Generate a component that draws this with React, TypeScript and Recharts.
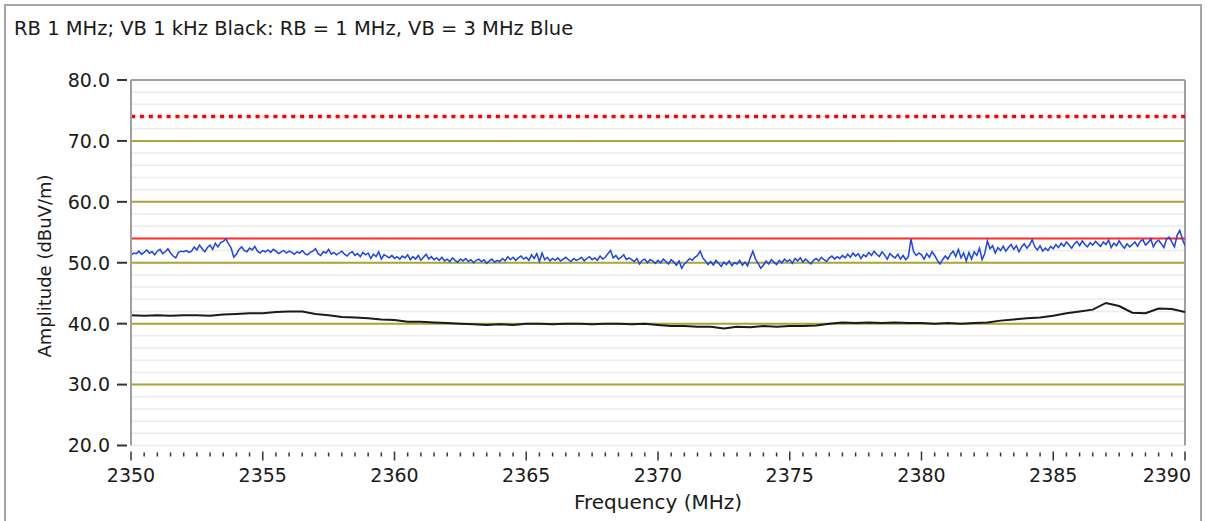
import { LineChart, Line, XAxis, YAxis, CartesianGrid, ReferenceLine } from "recharts";

const TITLE = "RB 1 MHz; VB 1 kHz Black: RB = 1 MHz, VB = 3 MHz Blue";
const X_LABEL = "Frequency (MHz)";
const Y_LABEL = "Amplitude (dBuV/m)";

const FREQ_START = 2350;
const FREQ_END = 2390;
const BLUE_STEP = 0.1;
const BLACK_STEP = 0.5;

// blue trace (RB 1 MHz, VB 3 MHz), one row per MHz, 0.1 MHz apart
const blueTrace = [
  51.2, 51.6, 51.5, 51.9, 51.4, 51.7, 52.1, 51.6, 51.8, 51.3,
  51.9, 52.2, 51.5, 51.8, 52.3, 51.6, 51.1, 50.8, 51.7, 51.9,
  51.8, 52.0, 51.7, 51.9, 52.6, 52.1, 52.9, 52.3, 51.8, 52.5,
  52.9, 52.2, 53.2, 52.6, 53.3, 53.5, 53.9, 53.1, 52.4, 50.9,
  51.4, 52.2, 52.6, 52.0, 51.8, 52.4, 52.1, 52.7, 51.9, 51.6,
  52.0, 51.8, 52.1, 51.7, 52.2, 51.9, 51.5, 51.8, 52.0, 51.6,
  51.9, 51.7, 51.4, 51.8, 51.6, 52.0, 51.5, 51.3, 51.7, 51.9,
  52.3, 51.5, 51.2, 51.8, 51.6, 52.2, 51.4, 51.7, 51.3, 51.6,
  51.9, 51.4, 51.1, 51.6, 51.8, 51.2, 51.5, 51.0, 51.7, 51.3,
  51.6, 50.7, 51.4, 51.0, 51.8, 50.6, 51.3, 51.1, 50.8, 51.2,
  50.7, 51.0, 50.6, 51.1, 50.8, 51.3, 50.5, 51.0, 50.6, 51.2,
  50.4, 50.9, 51.4, 50.6, 51.0, 50.5, 50.8, 50.4, 50.9, 50.3,
  50.6, 50.2, 50.8, 50.4, 50.1, 50.6, 50.3, 50.7, 50.2, 50.5,
  50.0, 50.4, 50.6, 50.2, 50.5, 49.9, 50.3, 50.6, 50.1, 50.4,
  50.2, 50.7, 50.3, 51.0, 50.5, 50.9, 50.4, 50.8, 51.1, 50.6,
  50.9, 50.4, 51.3, 50.7, 51.5, 50.2, 51.6, 50.5, 50.9, 50.3,
  50.7, 50.4, 50.8, 50.3, 50.6, 50.9, 50.5, 50.2, 50.7, 50.4,
  50.6, 50.9, 50.3, 50.7, 51.0, 50.5, 50.8, 50.4, 51.1, 50.6,
  50.9, 51.5, 52.0, 50.8, 51.2, 50.6, 50.9, 51.3, 50.5, 50.8,
  50.5, 50.2, 50.7, 49.8, 50.4, 50.6, 50.0, 50.5, 50.3, 49.9,
  50.4, 50.0, 50.6, 50.2, 49.8, 50.5, 50.1, 49.6, 50.3, 49.1,
  49.8, 50.2, 50.7, 50.4, 50.9, 51.2, 51.9, 50.8, 50.3, 49.7,
  50.2, 49.6, 50.4, 49.9, 49.4, 50.1, 49.7, 50.3, 49.5, 50.0,
  49.8, 50.4, 49.6, 50.1, 49.5, 50.8, 51.9, 50.6, 49.9, 49.1,
  49.6, 50.3, 49.8, 50.5, 50.1, 49.7, 50.4, 50.0, 50.6, 50.2,
  50.5, 49.9, 50.7, 50.3, 50.8, 50.1, 50.6, 50.2, 49.8, 50.4,
  50.7, 50.3, 50.9, 50.5, 50.2, 50.8, 51.1, 50.6, 51.0, 50.7,
  51.2, 50.8, 51.4, 50.9, 51.6, 51.1, 51.5, 50.7, 51.3, 51.0,
  51.7, 51.2, 51.9, 51.4, 51.0, 51.8, 51.3, 50.6, 51.5, 51.1,
  50.8, 51.4, 50.6, 51.2, 50.5, 51.0, 53.9, 51.8, 51.2, 51.6,
  51.3, 50.6, 51.5, 50.9, 51.8, 51.2, 50.4, 49.8, 50.5, 51.1,
  50.6, 51.4, 51.9, 51.0, 52.2, 50.8, 51.6, 50.3, 51.7, 50.6,
  51.8, 51.2, 52.4, 50.5, 51.5, 53.6, 52.3, 52.8, 51.6, 52.5,
  52.0, 52.7, 51.9, 52.5, 53.0, 52.2, 52.8, 51.8, 52.6, 53.1,
  52.4, 52.9, 53.8, 52.6, 52.1, 52.8, 51.9, 52.4, 52.0, 52.7,
  52.3, 53.0, 52.5, 53.2, 52.7, 53.4, 52.9, 52.4, 53.1, 53.5,
  52.8, 53.6, 53.0, 52.6, 53.3, 52.9, 53.5, 53.1, 52.7, 53.4,
  53.0, 53.7, 52.5, 53.2, 52.8, 53.6, 52.9, 52.4, 53.1, 52.6,
  53.0, 53.4, 52.7, 53.5, 53.8, 52.9, 53.3, 53.9, 52.6, 53.4,
  53.7, 53.1, 52.5, 53.9, 54.2, 53.4, 52.6, 54.5, 55.3, 53.9,
  52.8,
];

// black trace (RB 1 MHz, VB 1 kHz), 0.5 MHz apart
const blackTrace = [
  41.4, 41.3, 41.4, 41.3, 41.4, 41.4, 41.3, 41.5, 41.6, 41.7,
  41.7, 41.9, 42.0, 42.0, 41.6, 41.4, 41.1, 41.0, 40.9, 40.7,
  40.6, 40.3, 40.3, 40.2, 40.1, 40.0, 39.9, 39.8, 39.9, 39.8,
  40.0, 40.0, 39.9, 40.0, 40.0, 39.9, 40.0, 40.0, 39.9, 40.0,
  39.8, 39.6, 39.6, 39.5, 39.5, 39.2, 39.5, 39.4, 39.6, 39.5,
  39.6, 39.6, 39.7, 40.0, 40.2, 40.1, 40.2, 40.1, 40.2, 40.1,
  40.1, 40.0, 40.1, 40.0, 40.1, 40.2, 40.5, 40.7, 40.9, 41.0,
  41.3, 41.7, 42.0, 42.3, 43.4, 42.9, 41.8, 41.7, 42.5, 42.4,
  41.9,
];

const majorFreqs = [2350, 2355, 2360, 2365, 2370, 2375, 2380, 2385, 2390];
const yLabelTicks = [20, 30, 40, 50, 60, 70, 80];
const yGrid = [
  20, 22, 24, 26, 28, 30, 32, 34, 36, 38, 40, 42, 44, 46, 48, 50,
  52, 54, 56, 58, 60, 62, 64, 66, 68, 70, 72, 74, 76, 78, 80,
];
const oliveLines = [30, 40, 50, 60, 70];
const LIMIT_SOLID = 54;
const LIMIT_DOTTED = 74;

const xTicks = Array.from({ length: 81 }, (_, i) => FREQ_START + i * 0.5);

const blueData = blueTrace.map((v, i) => ({
  f: Math.round((FREQ_START + i * BLUE_STEP) * 10) / 10,
  v,
}));
const blackData = blackTrace.map((v, i) => ({ f: FREQ_START + i * BLACK_STEP, v }));

const FONT = "'DejaVu Sans', sans-serif";
const INK = "#1a1a1a";

function XTick(props: any) {
  const { x, y, payload } = props;
  const major = majorFreqs.includes(payload.value);
  if (!major) {
    return <line x1={x} x2={x} y1={y + 7} y2={y + 11} stroke="#333" strokeWidth={1.5} />;
  }
  // the last label is pulled in so it stays inside the frame
  const last = payload.value === FREQ_END;
  return (
    <g>
      <line x1={x} x2={x} y1={y + 6} y2={y + 15} stroke="#333" strokeWidth={1.5} />
      <text
        x={last ? x + 6 : x}
        y={y + 36}
        textAnchor={last ? "end" : "middle"}
        fontFamily={FONT}
        fontSize={19}
        fill={INK}
      >
        {payload.value}
      </text>
    </g>
  );
}

function YTick(props: any) {
  const { x, y, payload } = props;
  if (!yLabelTicks.includes(payload.value)) return <g />;
  return (
    <g>
      <line x1={x - 14} x2={x - 4} y1={y} y2={y} stroke="#333" strokeWidth={2} />
      <text
        x={x - 21}
        y={y}
        dy="0.36em"
        textAnchor="end"
        fontFamily={FONT}
        fontSize={19}
        fill={INK}
      >
        {payload.value.toFixed(1)}
      </text>
    </g>
  );
}

export default function App() {
  return (
    <div style={{ position: "relative", width: 1207, height: 521, overflow: "hidden", background: "#fff" }}>
      <style>{"body{margin:0;background:#fff}"}</style>
      <div
        style={{
          position: "absolute",
          left: 4,
          top: 4,
          width: 1198,
          height: 540,
          border: "2px solid #a6a6a6",
          boxSizing: "border-box",
        }}
      />
      <div
        style={{
          position: "absolute",
          left: 14,
          top: 17,
          fontFamily: FONT,
          fontSize: 19.5,
          lineHeight: "23px",
          color: INK,
          whiteSpace: "nowrap",
        }}
      >
        {TITLE}
      </div>
      <div
        style={{
          position: "absolute",
          left: 44,
          top: 266,
          transform: "translate(-50%, -50%) rotate(-90deg)",
          fontFamily: FONT,
          fontSize: 18,
          lineHeight: "21px",
          color: INK,
          whiteSpace: "nowrap",
        }}
      >
        {Y_LABEL}
      </div>
      <div
        style={{
          position: "absolute",
          left: 658,
          top: 491,
          transform: "translateX(-50%)",
          fontFamily: FONT,
          fontSize: 20,
          lineHeight: "23px",
          color: INK,
          whiteSpace: "nowrap",
        }}
      >
        {X_LABEL}
      </div>
      <div style={{ position: "absolute", left: 0, top: 0 }}>
        <LineChart width={1207} height={521} margin={{ top: 80, right: 22, bottom: 45.5, left: 51 }}>
          <CartesianGrid vertical={false} stroke="#ebebeb" strokeWidth={1.5} />
          <XAxis
            type="number"
            dataKey="f"
            domain={[FREQ_START, FREQ_END]}
            ticks={xTicks}
            interval={0}
            allowDataOverflow
            axisLine={false}
            tickLine={false}
            tickSize={0}
            tickMargin={0}
            height={30}
            tick={<XTick />}
          />
          <YAxis
            type="number"
            domain={[20, 80]}
            ticks={yGrid}
            interval={0}
            allowDataOverflow
            width={80}
            axisLine={{ stroke: "#a0a0a0", strokeWidth: 2 }}
            tickLine={false}
            tickSize={0}
            tickMargin={0}
            tick={<YTick />}
          />
          {oliveLines.map((v) => (
            <ReferenceLine key={v} y={v} stroke="#aaa534" strokeWidth={2} />
          ))}
          <ReferenceLine y={80} stroke="#a0a0a0" strokeWidth={2} />
          <ReferenceLine x={FREQ_END} stroke="#a0a0a0" strokeWidth={2} />
          <ReferenceLine y={LIMIT_SOLID} stroke="#ff2a2a" strokeWidth={2} />
          <ReferenceLine y={LIMIT_DOTTED} stroke="#ff0000" strokeWidth={3.5} strokeDasharray="4 4.9" />
          <Line
            data={blackData}
            dataKey="v"
            type="linear"
            stroke="#1a1a1a"
            strokeWidth={2}
            dot={false}
            isAnimationActive={false}
          />
          <Line
            data={blueData}
            dataKey="v"
            type="linear"
            stroke="#1c44e8"
            strokeWidth={1.5}
            dot={false}
            isAnimationActive={false}
          />
        </LineChart>
      </div>
    </div>
  );
}
